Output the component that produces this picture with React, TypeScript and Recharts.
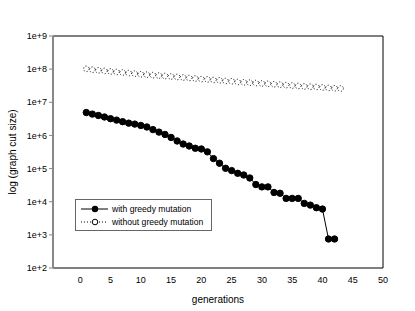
import React from 'react';
import { LineChart, Line, XAxis, YAxis, ReferenceLine } from 'recharts';

const generations = Array.from({ length: 43 }, (_, i) => i + 1);

// with greedy mutation (gens 1..42)
const withGreedy = [
  4.9e6, 4.4e6, 4.0e6, 3.6e6, 3.2e6, 2.9e6, 2.6e6, 2.35e6, 2.2e6, 2.0e6,
  1.8e6, 1.5e6, 1.26e6, 1.07e6, 8.7e5, 6.8e5, 5.5e5, 4.8e5, 4.1e5, 3.9e5,
  3.2e5, 2.0e5, 1.45e5, 1.02e5, 8.7e4, 7.2e4, 6.4e4, 5.2e4, 3.3e4, 2.8e4,
  2.8e4, 1.9e4, 1.8e4, 1.26e4, 1.26e4, 1.26e4, 8.9e3, 7.9e3, 6.6e3, 6.0e3,
  750, 750,
];

// without greedy mutation (gens 1..43)
const withoutGreedy = [
  1.02e8, 9.6e7, 9.2e7, 8.8e7, 8.5e7, 8.2e7, 7.9e7, 7.6e7, 7.3e7, 7.0e7,
  6.8e7, 6.6e7, 6.4e7, 6.2e7, 6.0e7, 5.8e7, 5.6e7, 5.4e7, 5.2e7, 5.0e7,
  4.9e7, 4.7e7, 4.6e7, 4.4e7, 4.3e7, 4.1e7, 4.0e7, 3.9e7, 3.8e7, 3.7e7,
  3.6e7, 3.5e7, 3.4e7, 3.3e7, 3.2e7, 3.1e7, 3.0e7, 2.95e7, 2.9e7, 2.8e7,
  2.7e7, 2.65e7, 2.6e7,
];

const xTicks = [0, 5, 10, 15, 20, 25, 30, 35, 40, 45, 50];
const yTicks = [1e2, 1e3, 1e4, 1e5, 1e6, 1e7, 1e8, 1e9];

const data = generations.map((g, i) => ({
  gen: g,
  greedy: withGreedy[i],
  noGreedy: withoutGreedy[i],
}));

const font = 'Arial, "Liberation Sans", sans-serif';

function LegendBox() {
  const row: React.CSSProperties = { display: 'flex', alignItems: 'center', height: 13, whiteSpace: 'nowrap' };
  return (
    <div
      style={{
        position: 'absolute',
        left: 75,
        top: 199,
        border: '1px solid #666',
        background: '#fff',
        width: 137,
        height: 32,
        fontFamily: font,
        fontSize: 8.6,
        color: '#000',
        boxSizing: 'border-box',
        paddingTop: 2,
      }}
    >
      <div style={row}>
        <svg width={32} height={10} style={{ marginLeft: 4 }}>
          <line x1={1} y1={5} x2={28} y2={5} stroke="#000" strokeWidth={1} />
          <circle cx={15} cy={5} r={3.2} fill="#000" />
        </svg>
        <span>with greedy mutation</span>
      </div>
      <div style={row}>
        <svg width={32} height={10} style={{ marginLeft: 4 }}>
          <line x1={1} y1={5} x2={28} y2={5} stroke="#000" strokeWidth={1} strokeDasharray="1 2" />
          <circle cx={15} cy={5} r={2.8} fill="#fff" stroke="#000" />
        </svg>
        <span>without greedy mutation</span>
      </div>
    </div>
  );
}

export default function App() {
  return (
    <div style={{ position: 'absolute', left: 0, top: 0, width: 415, height: 311, background: '#fff' }}>
      <LineChart
        width={415}
        height={311}
        data={data}
        margin={{ top: 36, right: 32, bottom: 0, left: 0 }}
      >
        <XAxis
          dataKey="gen"
          type="number"
          domain={[-4.5, 50]}
          ticks={xTicks}
          allowDataOverflow
          height={43}
          tickLine={false}
          axisLine={{ stroke: '#000', strokeWidth: 1 }}
          tick={{ fontSize: 9, fill: '#000', fontFamily: font }}
          tickMargin={3}
          label={{ value: 'generations', position: 'insideBottom', offset: 8, fontSize: 10, fill: '#000', fontFamily: font }}
        />
        <YAxis
          type="number"
          scale="log"
          domain={[1e2, 1e9]}
          ticks={yTicks}
          allowDataOverflow
          width={53}
          tickSize={4}
          tickLine={{ stroke: '#888' }}
          axisLine={{ stroke: '#888', strokeWidth: 2 }}
          tick={{ fontSize: 9, fill: '#000', fontFamily: font }}
          tickFormatter={(v: number) => `1e+${Math.round(Math.log10(v))}`}
          label={{ value: 'log (graph cut size)', angle: -90, position: 'center', dx: -14, fontSize: 10, fill: '#000', fontFamily: font }}
        />
        <ReferenceLine y={1e9} stroke="#000" strokeWidth={1} />
        <ReferenceLine x={50} stroke="#000" strokeWidth={1} />
        <Line
          dataKey="noGreedy"
          stroke="#000"
          strokeWidth={0.8}
          strokeDasharray="1 2"
          dot={{ r: 2.8, fill: '#fff', stroke: '#000', strokeWidth: 1 }}
          isAnimationActive={false}
        />
        <Line
          dataKey="greedy"
          stroke="#000"
          strokeWidth={1}
          dot={{ r: 3.2, fill: '#000', stroke: '#000', strokeWidth: 1 }}
          isAnimationActive={false}
        />
      </LineChart>
      <LegendBox />
    </div>
  );
}
